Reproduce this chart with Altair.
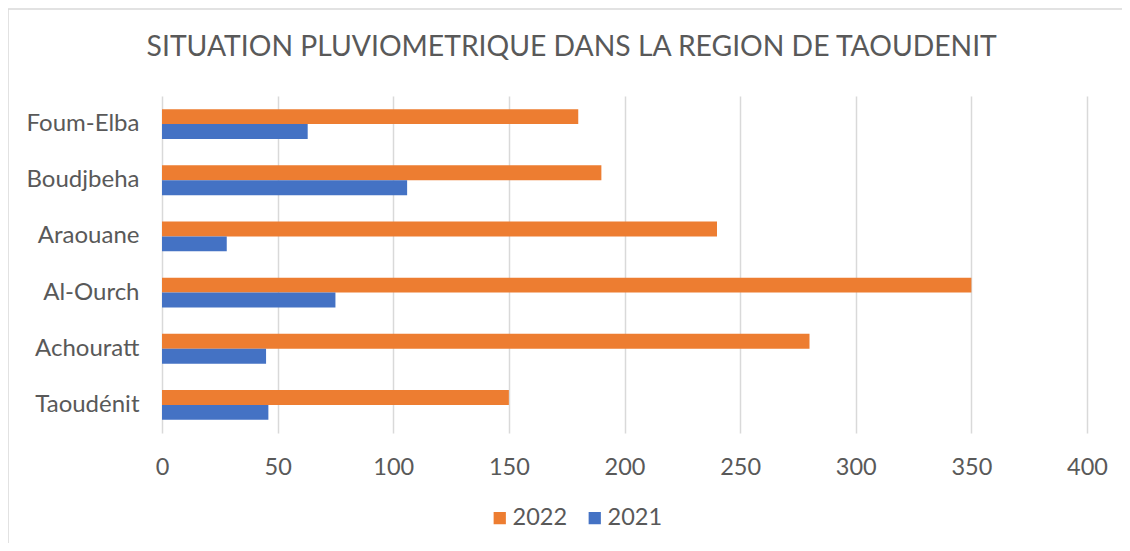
import altair as alt
import pandas as pd

stations = ["Foum-Elba", "Boudjbeha", "Araouane", "Al-Ourch", "Achouratt", "Taoudénit"]
values_2022 = [180, 190, 240, 350, 280, 150]
values_2021 = [63, 106, 28, 75, 45, 46]
years = ["2022", "2021"]
colors = ["#ED7D31", "#4472C4"]
x_ticks = [0, 50, 100, 150, 200, 250, 300, 350, 400]
title_text = "SITUATION PLUVIOMETRIQUE DANS LA REGION DE TAOUDENIT"

rows = []
for s, a, b in zip(stations, values_2022, values_2021):
    rows.append({"station": s, "year": "2022", "value": a})
    rows.append({"station": s, "year": "2021", "value": b})
df = pd.DataFrame(rows)

FONT = "Lato"
GREY = "#595959"

bars = alt.Chart(df).mark_bar().encode(
    y=alt.Y("station:N", sort=stations, title=None,
            scale=alt.Scale(paddingInner=0.47, paddingOuter=0.235),
            axis=alt.Axis(labelFont=FONT, labelFontSize=24, labelColor=GREY,
                          ticks=False, domain=False, labelPadding=23, grid=False)),
    yOffset=alt.YOffset("year:N", sort=years, scale=alt.Scale(domain=years, paddingInner=0, paddingOuter=0)),
    x=alt.X("value:Q", title=None,
            scale=alt.Scale(domain=[0, 400], nice=False),
            axis=alt.Axis(values=x_ticks, labelFont=FONT, labelFontSize=23.5, labelColor=GREY,
                          ticks=False, domain=False, labelPadding=22, labelFlush=False,
                          grid=True, gridColor="#d9d9d9", gridWidth=1.5)),
    color=alt.Color("year:N", scale=alt.Scale(domain=years, range=colors),
                    legend=alt.Legend(title=None, orient="none", legendX=326, legendY=410,
                                      direction="horizontal", symbolType="square",
                                      symbolSize=150, symbolStrokeWidth=0,
                                      labelFont=FONT, labelFontSize=23.5, labelColor=GREY,
                                      columnPadding=15, labelOffset=1)),
)

border = alt.Chart(alt.Data(values=[{"a": 1}])).mark_rect(
    filled=False, stroke="#d9d9d9", strokeWidth=1.5
).encode(
    x=alt.value(-154), x2=alt.value(1300),
    y=alt.value(-87), y2=alt.value(800),
)

title = alt.Chart(alt.Data(values=[{"t": title_text}])).mark_text(
    font=FONT, fontSize=28.3, color=GREY, align="center", baseline="alphabetic"
).encode(
    x=alt.value(409.7), y=alt.value(-40), text="t:N",
)

chart = alt.layer(border, title, bars).properties(
    width=925, height=337,
    autosize=alt.AutoSizeParams(type="none"),
    padding={"left": 154, "top": 88, "right": 35, "bottom": 110},
).configure_view(stroke=None)

chart.save("out.html", embed_options={"renderer": "svg", "actions": False})
